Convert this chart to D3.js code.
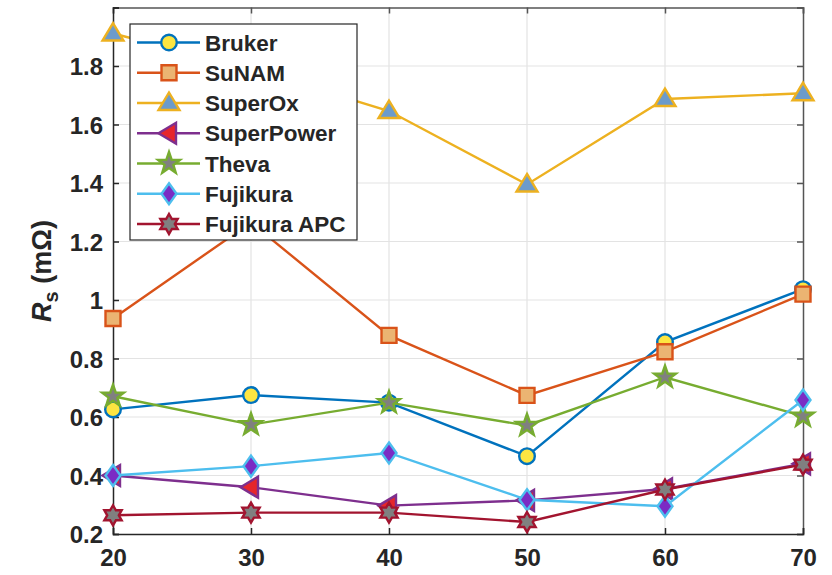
<!DOCTYPE html>
<html lang="en">
<head>
  <meta charset="UTF-8">
  <title>Rs chart</title>
  <style>
    body { margin: 0; background: #fff; }
    text { font-family: Arial, "Liberation Sans", Helvetica, sans-serif; font-weight: bold; fill: #262626; }
  </style>
</head>
<body>
  <svg width="832" height="575"></svg>
  <script src="https://cdn.jsdelivr.net/npm/d3@7"></script>
  <script>
    var temps = [20, 30, 40, 50, 60, 70]
    var names = ['Bruker', 'SuNAM', 'SuperOx', 'SuperPower', 'Theva', 'Fujikura', 'Fujikura APC']
    var bruker = [0.626, 0.675, 0.649, 0.466, 0.856, 1.037]
    var sunam = [0.937, 1.265, 0.879, 0.674, 0.823, 1.020]
    var superox = [1.911, 1.79, 1.646, 1.395, 1.687, 1.707]
    var superpower = [0.400, 0.360, 0.297, 0.315, 0.354, 0.440]
    var theva = [0.671, 0.574, 0.649, 0.571, 0.736, 0.603]
    var fujikura = [0.400, 0.432, 0.477, 0.317, 0.295, 0.658]
    var fujikuraApc = [0.264, 0.273, 0.273, 0.241, 0.352, 0.437]
    var xTicks = [20, 30, 40, 50, 60, 70]
    var yTicks = [0.2, 0.4, 0.6, 0.8, 1, 1.2, 1.4, 1.6, 1.8, 2]
    var yLabels = ['0.2', '0.4', '0.6', '0.8', '1', '1.2', '1.4', '1.6', '1.8', '']

    var series = [
      { name: names[0], values: bruker, line: '#0072BD', face: '#FDE541', edge: '#0072BD', marker: 'circle' },
      { name: names[1], values: sunam, line: '#D95319', face: '#EBB472', edge: '#D95319', marker: 'square' },
      { name: names[2], values: superox, line: '#EDB120', face: '#6C9BCB', edge: '#EDB120', marker: 'triangle' },
      { name: names[3], values: superpower, line: '#7E2F8E', face: '#E6262B', edge: '#7E2F8E', marker: 'triangleLeft' },
      { name: names[4], values: theva, line: '#77AC30', face: '#808080', edge: '#77AC30', marker: 'pentagram' },
      { name: names[5], values: fujikura, line: '#4DBEEE', face: '#7B2CC4', edge: '#4DBEEE', marker: 'diamond' },
      { name: names[6], values: fujikuraApc, line: '#A2142F', face: '#808080', edge: '#A2142F', marker: 'hexagram' }
    ]

    var svg = d3.select('svg')
    var pLeft = 113, pRight = 803, pTop = 7.5, pBottom = 534

    var x = d3.scaleLinear().domain([20, 70]).range([pLeft, pRight])
    var y = d3.scaleLinear().domain([0.2, 2]).range([pBottom, pTop])

    // grid
    var grid = svg.append('g').attr('stroke', '#e3e3e3').attr('stroke-width', 1.2)
    grid.selectAll('.gx').data(xTicks.slice(1, -1)).enter().append('line')
      .attr('x1', d => x(d)).attr('x2', d => x(d)).attr('y1', pTop).attr('y2', pBottom)
    grid.selectAll('.gy').data(yTicks.slice(1, -1)).enter().append('line')
      .attr('x1', pLeft).attr('x2', pRight).attr('y1', d => y(d)).attr('y2', d => y(d))

    // axes
    var xAxis = d3.axisBottom(x).tickValues(xTicks).tickSize(-6).tickPadding(15).tickFormat(d3.format('d'))
    var yAxis = d3.axisLeft(y).tickValues(yTicks).tickSize(-6).tickPadding(10).tickFormat((d, i) => yLabels[i])
    var gx2 = svg.append('g').attr('transform', 'translate(0,' + pTop + ')')
      .call(d3.axisTop(x).tickValues(xTicks).tickSize(-6).tickFormat(''))
    var gy2 = svg.append('g').attr('transform', 'translate(' + pRight + ',0)')
      .call(d3.axisRight(y).tickValues(yTicks).tickSize(-6).tickFormat(''))
    var gx = svg.append('g').attr('transform', 'translate(0,' + pBottom + ')').call(xAxis)
    var gy = svg.append('g').attr('transform', 'translate(' + pLeft + ',0)').call(yAxis)
    ;[gx, gy].forEach(function(g) {
      g.selectAll('path, line').attr('stroke', '#262626').attr('stroke-width', 1.5)
      g.selectAll('text').attr('font-size', 24).attr('fill', '#262626')
        .style('font-family', 'Arial, "Liberation Sans", sans-serif').style('font-weight', 'bold')
    })
    ;[gx2, gy2].forEach(function(g) {
      g.selectAll('path, line').attr('stroke', '#555').attr('stroke-width', 1.5)
    })
    gx.selectAll('text').attr('dy', '0.71em')
    gy.selectAll('text').attr('dy', '0.36em')

    // y label
    var yl = svg.append('text')
      .attr('transform', 'translate(51,271) rotate(-90)')
      .attr('text-anchor', 'middle')
      .attr('font-size', 27)
    yl.append('tspan').attr('font-style', 'italic').text('R')
    yl.append('tspan').attr('font-size', 20).attr('dy', 7).text('s')
    yl.append('tspan').attr('dy', -7).text(' (m\u03A9)')

    // marker shapes
    function star(n, ro, ri) {
      var pts = []
      for (var i = 0; i < 2 * n; i++) {
        var a = -Math.PI / 2 + i * Math.PI / n
        var r = i % 2 === 0 ? ro : ri
        pts.push([r * Math.cos(a), r * Math.sin(a)])
      }
      return 'M' + pts.map(p => p[0].toFixed(2) + ',' + p[1].toFixed(2)).join('L') + 'Z'
    }
    function markerPath(type) {
      switch (type) {
        case 'circle': return d3.symbol(d3.symbolCircle, Math.PI * 7.8 * 7.8)()
        case 'square': return 'M-7.5,-7.5L7.5,-7.5L7.5,7.5L-7.5,7.5Z'
        case 'triangle': return 'M0,-10.5L10.5,7L-10.5,7Z'
        case 'triangleLeft': return 'M-10.5,0L7,-10.5L7,10.5Z'
        case 'diamond': return 'M0,-10.5L7.5,0L0,10.5L-7.5,0Z'
        case 'pentagram': return star(5, 11.5, 4.6)
        case 'hexagram': return star(6, 10, 5.8)
      }
    }

    var line = d3.line().x((d, i) => x(temps[i])).y(d => y(d))

    series.forEach(function(s) {
      var g = svg.append('g')
      g.append('path').datum(s.values).attr('d', line)
        .attr('fill', 'none').attr('stroke', s.line).attr('stroke-width', 2.4)
      g.selectAll('.m').data(s.values).enter().append('path')
        .attr('d', markerPath(s.marker))
        .attr('transform', (d, i) => 'translate(' + x(temps[i]) + ',' + y(d) + ')')
        .attr('fill', s.face).attr('stroke', s.edge).attr('stroke-width', 2.4)
        .attr('stroke-linejoin', 'miter')
    })

    // legend
    var lg = svg.append('g')
    lg.append('rect').attr('x', 130).attr('y', 24).attr('width', 227).attr('height', 216)
      .attr('fill', '#fff').attr('stroke', '#262626').attr('stroke-width', 1.2)
    var rowY = d3.scaleLinear().domain([0, 6]).range([42.5, 224])
    series.forEach(function(s, i) {
      var ry = rowY(i)
      lg.append('line').attr('x1', 137).attr('x2', 200).attr('y1', ry).attr('y2', ry)
        .attr('stroke', s.line).attr('stroke-width', 2.4)
      lg.append('path').attr('d', markerPath(s.marker))
        .attr('transform', 'translate(169,' + ry + ')')
        .attr('fill', s.face).attr('stroke', s.edge).attr('stroke-width', 2.4)
      lg.append('text').attr('x', 205).attr('y', ry).attr('dy', '0.36em')
        .attr('font-size', 22.5).attr('fill', '#000').text(s.name)
    })
  </script>
</body>
</html>
